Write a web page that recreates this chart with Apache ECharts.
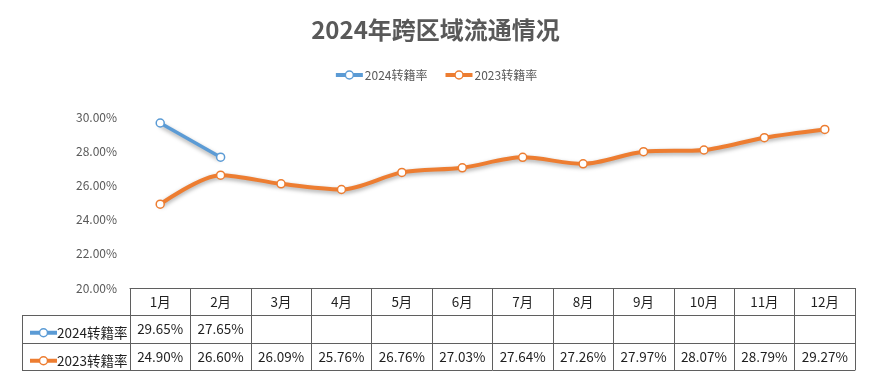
<!DOCTYPE html>
<html>
<head>
<meta charset="utf-8">
<script src="https://cdn.jsdelivr.net/npm/echarts@6/dist/echarts.min.js"></script>
<style>html,body{margin:0;padding:0;background:#fff}#c{width:871px;height:377px}</style>
</head>
<body>
<div id="c"></div>
<script>
var titleText = '2024年跨区域流通情况';
var months = ['1月','2月','3月','4月','5月','6月','7月','8月','9月','10月','11月','12月'];
var name2024 = '2024转籍率';
var name2023 = '2023转籍率';
var rate2024 = [29.65, 27.65, null, null, null, null, null, null, null, null, null, null];
var rate2023 = [24.90, 26.60, 26.09, 25.76, 26.76, 27.03, 27.64, 27.26, 27.97, 28.07, 28.79, 29.27];
var yTicks = {min: 20, max: 30, interval: 2};

var FONT = '"Noto Sans CJK SC", "Noto Sans", sans-serif';
var LINE = '#5f5f5f';
var TXT = '#1f1f1f';
var C24 = '#5B9BD5', C23 = '#ED7D31';

function fmt(v){ return v == null ? '' : v.toFixed(2) + '%'; }

// layout
var gLeft = 130, gRight = 855, gTop = 117, gBottom = 288;
var rows = [27, 55, 82]; // offsets of table lines below axis
var tableLeft = 22;

var chart = echarts.init(document.getElementById('c'), null, {renderer: 'canvas'});

function catAxis(data, offset, showLabel, margin, tickLen) {
  return {
    type: 'category', position: 'bottom', data: data, offset: offset,
    boundaryGap: true,
    axisLine: {show: true, lineStyle: {color: LINE, width: 1}},
    axisTick: {show: tickLen > 0, length: tickLen, alignWithLabel: false, interval: 0, lineStyle: {color: LINE, width: 1}},
    axisLabel: {show: showLabel, interval: 0, margin: margin, color: TXT, fontSize: 13.5, fontFamily: FONT},
    splitLine: {show: false}
  };
}

var legendIcon = {
  itemWidth: 27, itemHeight: 10,
  lineStyle: {width: 4},
  itemStyle: {borderWidth: 1.5}
};

var option = {
  animation: false,
  backgroundColor: '#fff',
  title: {
    text: titleText, left: 'center', top: 13,
    textStyle: {fontSize: 24, fontWeight: 'bold', color: '#595959', fontFamily: FONT}
  },
  legend: [
    Object.assign({
      data: [name2024, name2023], top: 64, left: 'center', itemGap: 16,
      textStyle: {fontSize: 12, color: '#595959', fontFamily: FONT, padding: [0,0,0,-3]}
    }, legendIcon),
    Object.assign({
      data: [name2024], left: tableLeft + 1, top: gBottom + rows[0] + 6,
      selectedMode: false,
      textStyle: {fontSize: 13.5, color: TXT, fontFamily: FONT, padding: [0,0,0,-5]}
    }, legendIcon),
    Object.assign({
      data: [name2023], left: tableLeft + 1, top: gBottom + rows[1] + 6,
      selectedMode: false,
      textStyle: {fontSize: 13.5, color: TXT, fontFamily: FONT, padding: [0,0,0,-5]}
    }, legendIcon)
  ],
  grid: {left: gLeft, right: 871 - gRight, top: gTop, bottom: 377 - gBottom, containLabel: false},
  xAxis: [
    catAxis(months, 0, true, 7, rows[2]),
    catAxis(rate2024.map(fmt), rows[0], true, 7, 0),
    catAxis(rate2023.map(fmt), rows[1], true, 7, 0),
    catAxis(months.map(function(){return '';}), rows[2], false, 7, 0)
  ],
  yAxis: {
    type: 'value', min: yTicks.min, max: yTicks.max, interval: yTicks.interval,
    axisLine: {show: false}, axisTick: {show: false}, splitLine: {show: false},
    axisLabel: {margin: 13, color: '#595959', fontSize: 12, fontFamily: FONT,
      formatter: function(v){ return v.toFixed(2) + '%'; }}
  },
  series: [
    {
      name: name2024, type: 'line', xAxisIndex: 0, data: rate2024, smooth: 0.3,
      symbol: 'circle', symbolSize: 8, showSymbol: true,
      lineStyle: {color: C24, width: 3.5, shadowBlur: 4, shadowColor: 'rgba(0,0,0,0.35)', shadowOffsetY: 2},
      itemStyle: {color: '#fff', borderColor: C24, borderWidth: 1.5}
    },
    {
      name: name2023, type: 'line', xAxisIndex: 0, data: rate2023, smooth: 0.3,
      symbol: 'circle', symbolSize: 8, showSymbol: true,
      lineStyle: {color: C23, width: 4, shadowBlur: 4, shadowColor: 'rgba(0,0,0,0.35)', shadowOffsetY: 2},
      itemStyle: {color: '#fff', borderColor: C23, borderWidth: 1.5}
    }
  ],
  graphic: [
    {type: 'line', shape: {x1: tableLeft, y1: gBottom + rows[0] + 0.5, x2: gLeft, y2: gBottom + rows[0] + 0.5}, style: {stroke: LINE, lineWidth: 1}},
    {type: 'line', shape: {x1: tableLeft, y1: gBottom + rows[1] + 0.5, x2: gLeft, y2: gBottom + rows[1] + 0.5}, style: {stroke: LINE, lineWidth: 1}},
    {type: 'line', shape: {x1: tableLeft, y1: gBottom + rows[2] + 0.5, x2: gLeft, y2: gBottom + rows[2] + 0.5}, style: {stroke: LINE, lineWidth: 1}},
    {type: 'line', shape: {x1: tableLeft + 0.5, y1: gBottom + rows[0], x2: tableLeft + 0.5, y2: gBottom + rows[2]}, style: {stroke: LINE, lineWidth: 1}}
  ]
};
chart.setOption(option);
</script>
</body>
</html>
